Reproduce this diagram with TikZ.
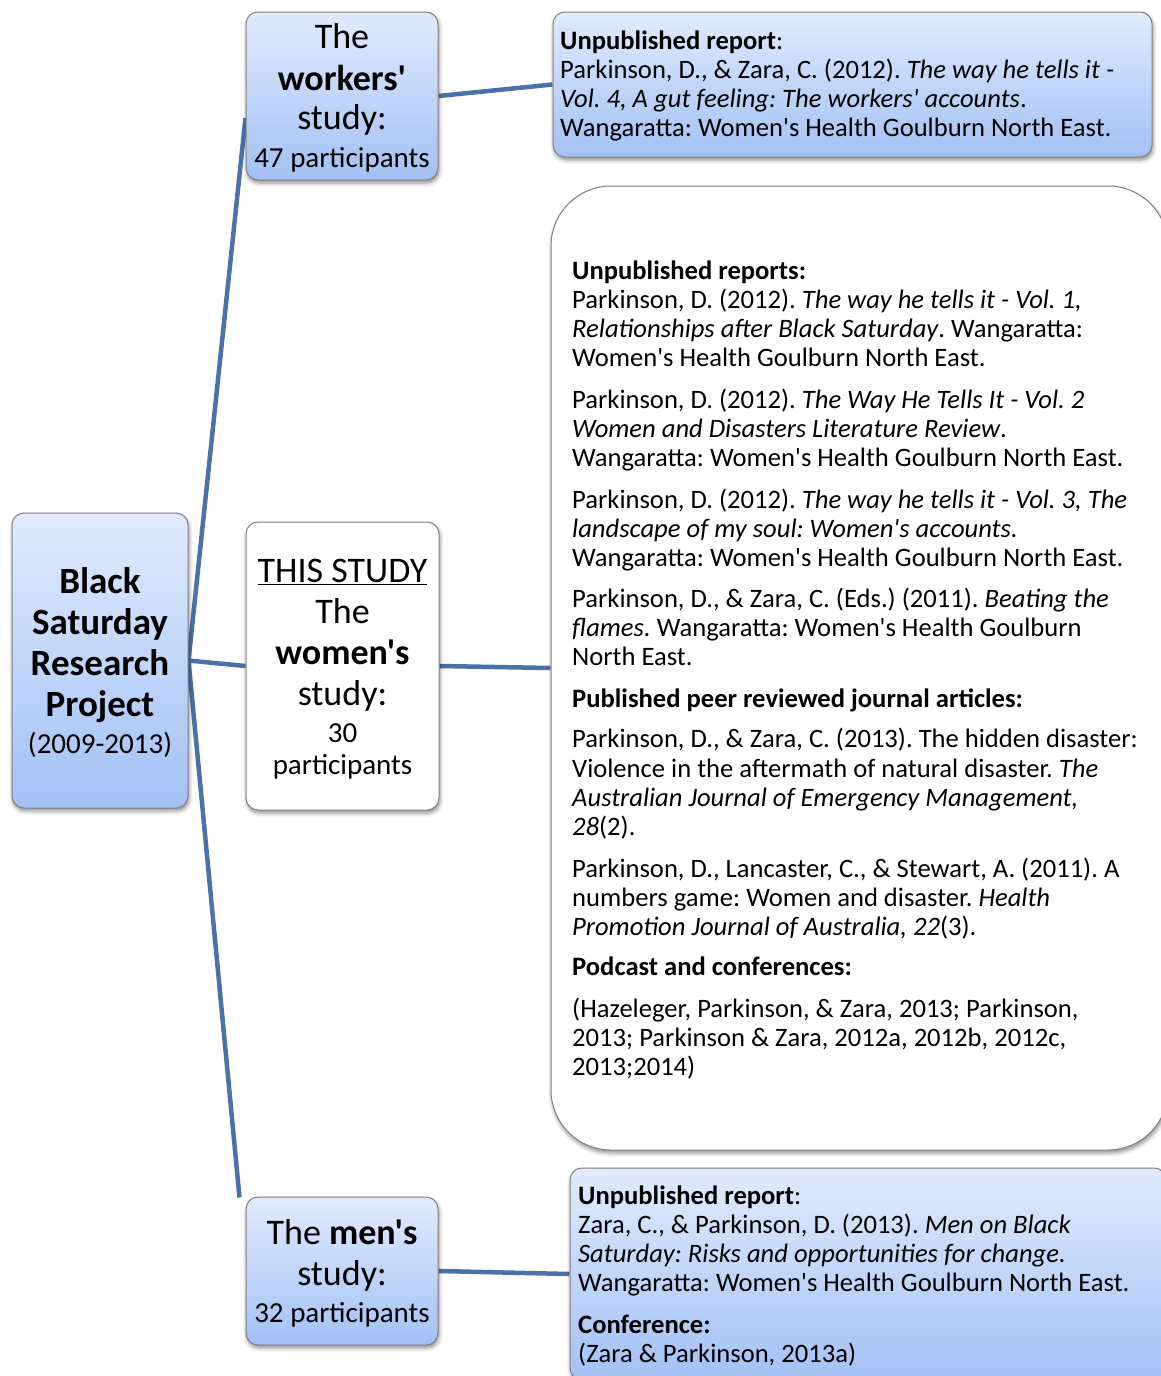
\documentclass[tikz,border=0pt]{standalone}
\usepackage{fontspec}
\setmainfont{Carlito}[Ligatures=TeXOff]
\usetikzlibrary{shadows.blur,backgrounds}
\definecolor{gtop}{HTML}{E1EBFD}
\definecolor{gbot}{HTML}{A3C1F4}
\definecolor{edgec}{HTML}{7F7F7F}
\definecolor{linkc}{HTML}{4A72A8}
\frenchspacing
\begin{document}
\begin{tikzpicture}[x=1pt,y=-1pt,
  sbox/.style={draw=edgec, line width=1pt, rounded corners=12pt, inner sep=0pt,
    blur shadow={shadow xshift=1pt, shadow yshift=-3pt, shadow blur radius=4pt, shadow opacity=45}},
  bluebox/.style={sbox, top color=gtop, bottom color=gbot},
  whitebox/.style={sbox, fill=white},
  boxtext/.style={align=center, inner sep=0pt, font=\fontsize{36}{41}\selectfont},
  linkline/.style={draw=linkc, line width=4.5pt},
  reftext/.style={align=left, inner sep=0pt, font=\fontsize{26.6}{29}\selectfont, anchor=west}
]
\useasboundingbox (0,0) rectangle (1161,1376);
\clip (0,0) rectangle (1161,1376);

% project box
\node[bluebox, minimum width=176, minimum height=295] (mb) at (100,660.5) {};
\node[boxtext, font=\fontsize{37}{41}\selectfont\bfseries] (mbt) at (100,663)
  {Black\\Saturday\\Research\\Project\\[-4pt]{\mdseries\fontsize{29}{33}\selectfont (2009-2013)}};

% study boxes
\node[bluebox, minimum width=192, minimum height=168] (wk) at (342,96) {};
\node[boxtext] (wkt) at (342,98)
  {The\\[1pt]\textbf{workers'}\\[-2pt]study:\\[-3pt]{\fontsize{29}{33}\selectfont 47 participants}};

\node[whitebox, minimum width=193, minimum height=288] (wm) at (342.5,666) {};
\node[boxtext] (wmt) at (342.5,669)
  {\underline{THIS STUDY}\\The\\\textbf{women's}\\study:\\[-4pt]{\fontsize{29}{33}\selectfont 30}\\[-9pt]{\fontsize{29}{33}\selectfont participants}};

\node[bluebox, minimum width=192, minimum height=148] (mn) at (342,1271) {};
\node[boxtext] (mnt) at (342,1273)
  {The \textbf{men's}\\study:\\[-4pt]{\fontsize{29}{33}\selectfont 32 participants}};

% publication boxes
\node[bluebox, minimum width=599, minimum height=145] (wp) at (852.5,84.5) {};
\node[whitebox, rounded corners=60pt, minimum width=617, minimum height=964] (wmp) at (859.5,668) {};
\node[bluebox, minimum width=596, minimum height=212] (mp) at (868,1274) {};

\node[reftext] (wpt) at (560,86)
  {\textbf{Unpublished report}:\\
   Parkinson, D., \& Zara, C. (2012). \textit{The way he tells it -}\\
   \textit{Vol. 4, A gut feeling: The workers' accounts}.\\
   Wangaratta: Women's Health Goulburn North East.};

\node[reftext] (wmt) at (572,670)
  {\textbf{Unpublished reports:}\\
   Parkinson, D. (2012). \textit{The way he tells it - Vol. 1,}\\
   \textit{Relationships after Black Saturday}. Wangaratta:\\
   Women's Health Goulburn North East.\\[13pt]
   Parkinson, D. (2012). \textit{The Way He Tells It - Vol. 2}\\
   \textit{Women and Disasters Literature Review}.\\
   Wangaratta: Women's Health Goulburn North East.\\[12.5pt]
   Parkinson, D. (2012). \textit{The way he tells it - Vol. 3, The}\\
   \textit{landscape of my soul: Women's accounts.}\\
   Wangaratta: Women's Health Goulburn North East.\\[12.5pt]
   Parkinson, D., \& Zara, C. (Eds.) (2011). \textit{Beating the}\\
   \textit{flames.} Wangaratta: Women's Health Goulburn\\
   North East.\\[12.5pt]
   \textbf{Published peer reviewed journal articles:}\\[11.5pt]
   Parkinson, D., \& Zara, C. (2013). The hidden disaster:\\[0.3pt]
   Violence in the aftermath of natural disaster. \textit{The}\\[0.3pt]
   \textit{Australian Journal of Emergency Management,}\\[0.3pt]
   \textit{28}(2).\\[12.5pt]
   Parkinson, D., Lancaster, C., \& Stewart, A. (2011). A\\
   numbers game: Women and disaster. \textit{Health}\\
   \textit{Promotion Journal of Australia, 22}(3).\\[11.5pt]
   \textbf{Podcast and conferences:}\\[12.5pt]
   (Hazeleger, Parkinson, \& Zara, 2013; Parkinson,\\
   2013; Parkinson \& Zara, 2012a, 2012b, 2012c,\\
   2013;2014)};

\node[reftext] (mpt) at (578,1275.5)
  {\textbf{Unpublished report}:\\
   Zara, C., \& Parkinson, D. (2013). \textit{Men on Black}\\
   \textit{Saturday: Risks and opportunities for change.}\\[0.5pt]
   Wangaratta: Women's Health Goulburn North East.\\[12.5pt]
   \textbf{Conference:}\\
   (Zara \& Parkinson, 2013a)};

% connectors
\begin{pgfonlayer}{background}
  \draw[linkline] (mb.east) -- ([yshift=-22pt]wk.west);
  \draw[linkline] (mb.east) -- (wm.west);
  \draw[linkline] (mb.east) -- ([xshift=-6pt,yshift=-1pt]mn.north west);
  \draw[linkline] (wk.east) -- (wp.west);
  \draw[linkline] (wm.east) -- (wmp.west);
  \draw[linkline] (mn.east) -- (mp.west);
\end{pgfonlayer}
\end{tikzpicture}
\end{document}
